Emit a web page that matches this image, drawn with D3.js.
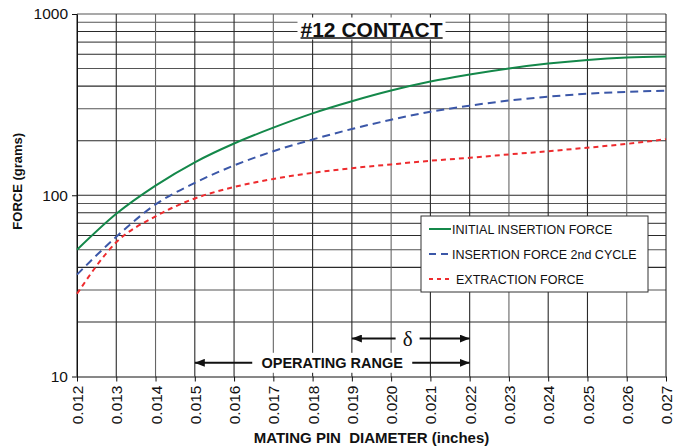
<!DOCTYPE html>
<html>
<head>
<meta charset="utf-8">
<script src="https://cdn.jsdelivr.net/npm/d3@7"></script>
<style>
  body { margin: 0; background: #fff; }
  #svg-container { width: 677px; height: 448px; }
  text { font-family: "Liberation Sans", Arial, sans-serif; fill: #111; }
</style>
</head>
<body>
<div id="svg-container"></div>
<script>
// data (grams at each pin diameter)
const diameters = [0.012, 0.013, 0.014, 0.015, 0.016, 0.017, 0.018, 0.019, 0.02, 0.021, 0.022, 0.023, 0.024, 0.025, 0.026, 0.027];
const initialInsertion = [50, 79, 113, 152, 193, 236, 283, 330, 378, 424, 464, 501, 533, 558, 575, 583];
const insertion2nd = [36.5, 59, 89, 117, 146, 175, 203, 232, 261, 289, 312, 333, 350, 363, 372, 377];
const extraction = [28.6, 55, 76.5, 96, 111, 123, 133, 141, 148, 155, 161, 168, 175, 183, 192, 204];
const xTicks = d3.range(0.012, 0.02701, 0.001);
const yTicks = [10, 100, 1000];
const seriesNames = ["INITIAL INSERTION FORCE", "INSERTION FORCE 2nd CYCLE", "EXTRACTION FORCE"];
const operatingRange = [0.015, 0.022];
const deltaRange = [0.019, 0.022];

const width = 677;
const height = 448;
const margin = { top: 14, right: 11, bottom: 71.5, left: 77 };

const svg = d3.select("#svg-container").append("svg")
  .attr("width", width).attr("height", height);

// scales
const xScale = d3.scaleLinear().domain([0.012, 0.027]).range([margin.left, width - margin.right]);
const yScale = d3.scaleLog().domain([10, 1000]).range([height - margin.bottom, margin.top]);

// grid
const minorY = [];
[10, 100].forEach((dec) => { for (let k = 2; k <= 9; k++) minorY.push(dec * k); });
svg.append("g").selectAll("line").data(minorY.concat([100, 1000])).join("line")
  .attr("x1", margin.left).attr("x2", width - margin.right)
  .attr("y1", (d) => yScale(d)).attr("y2", (d) => yScale(d))
  .attr("stroke", (d, i) => (i % 2 ? "#555" : "#2a2a2a")).attr("stroke-width", 1.1);

svg.append("g").selectAll("line").data(xTicks).join("line")
  .attr("x1", (d) => xScale(d)).attr("x2", (d) => xScale(d))
  .attr("y1", margin.top).attr("y2", height - margin.bottom)
  .attr("stroke", (d, i) => (i % 3 == 2 ? "#666" : "#2a2a2a")).attr("stroke-width", 1.1);

// axes
const xAxis = d3.axisBottom(xScale).tickValues(xTicks).tickFormat(d3.format(".3f")).tickSize(5).tickSizeOuter(0);
const yAxis = d3.axisLeft(yScale).tickValues(yTicks).tickFormat(d3.format("d")).tickSize(5).tickSizeOuter(0);

const gx = svg.append("g").attr("class", "x-axis")
  .attr("transform", `translate(0, ${height - margin.bottom})`).call(xAxis);
gx.select(".domain").attr("stroke", "#111");
gx.selectAll(".tick line").attr("stroke", "#111");
gx.selectAll("text")
  .attr("transform", "rotate(-90)")
  .attr("x", -9).attr("y", 0).attr("dy", "0.36em")
  .style("text-anchor", "end")
  .style("font-size", "15.5px")
  .style("font-family", "Liberation Sans, Arial, sans-serif")
  .attr("fill", "#111");

const gy = svg.append("g").attr("class", "y-axis")
  .attr("transform", `translate(${margin.left},0)`).call(yAxis);
gy.select(".domain").attr("stroke", "#111");
gy.selectAll(".tick line").attr("stroke", "#111");
gy.selectAll("text")
  .attr("x", -9)
  .style("font-size", "15.5px")
  .style("font-family", "Liberation Sans, Arial, sans-serif")
  .attr("fill", "#111");

// lines
const styles = [
  { values: initialInsertion, color: "#14884a", dash: null },
  { values: insertion2nd, color: "#3b57a8", dash: "8,5" },
  { values: extraction, color: "#ee2b2e", dash: "5,4" }
];

const line = d3.line()
  .x((d) => xScale(d[0]))
  .y((d) => yScale(d[1]))
  .curve(d3.curveMonotoneX);

styles.forEach((s) => {
  svg.append("path")
    .datum(diameters.map((d, i) => [d, s.values[i]]))
    .attr("d", line)
    .attr("fill", "none")
    .attr("stroke", s.color)
    .attr("stroke-width", 2)
    .attr("stroke-dasharray", s.dash);
});

// title
const titleX = xScale(0.0195);
const titleY = 36.5;
svg.append("rect")
  .attr("x", titleX - 74).attr("y", titleY - 19).attr("width", 148).attr("height", 22)
  .attr("fill", "#fff");
const title = svg.append("text")
  .attr("x", titleX).attr("y", titleY)
  .attr("text-anchor", "middle")
  .style("font-size", "21px").style("font-weight", "bold")
  .text("#12 CONTACT");
const tb = title.node().getBBox();
svg.append("line")
  .attr("x1", tb.x).attr("x2", tb.x + tb.width)
  .attr("y1", titleY + 1.5).attr("y2", titleY + 1.5)
  .attr("stroke", "#111").attr("stroke-width", 1.5);

// legend
const legend = svg.append("g").attr("transform", "translate(421,216)");
legend.append("rect")
  .attr("width", 227).attr("height", 76)
  .attr("fill", "#fff").attr("stroke", "#333").attr("stroke-width", 1);
styles.forEach((s, i) => {
  const y = 13 + i * 25;
  legend.append("line")
    .attr("x1", 8).attr("x2", 30).attr("y1", y).attr("y2", y)
    .attr("stroke", s.color).attr("stroke-width", 2)
    .attr("stroke-dasharray", i == 1 ? "7,5" : i == 2 ? "4,4" : null);
  legend.append("text")
    .attr("x", i == 2 ? 35 : 31).attr("y", y).attr("dy", "0.36em")
    .style("font-size", "12.5px")
    .text(seriesNames[i]);
});

// arrows
const defs = svg.append("defs");
defs.append("marker")
  .attr("id", "arrow")
  .attr("viewBox", "0 0 10 8")
  .attr("refX", 10).attr("refY", 4)
  .attr("markerWidth", 10).attr("markerHeight", 8)
  .attr("markerUnits", "userSpaceOnUse")
  .attr("orient", "auto")
  .append("path").attr("d", "M0,0L10,4L0,8Z").attr("fill", "#111");

function rangeArrow(range, val, label, textX, gapL, gapR, font, size, weight) {
  const y = yScale(val);
  const tx = xScale(textX);
  svg.append("rect")
    .attr("x", tx - gapL).attr("y", y - 10).attr("width", gapL + gapR).attr("height", 20)
    .attr("fill", "#fff");
  svg.append("text")
    .attr("x", tx).attr("y", y).attr("dy", "0.36em")
    .attr("text-anchor", "middle")
    .style("font-family", font).style("font-size", size).style("font-weight", weight)
    .text(label);
  svg.append("line")
    .attr("x1", tx - gapL + 2).attr("x2", xScale(range[0]))
    .attr("y1", y).attr("y2", y)
    .attr("stroke", "#111").attr("stroke-width", 2)
    .attr("marker-end", "url(#arrow)");
  svg.append("line")
    .attr("x1", tx + gapR - 2).attr("x2", xScale(range[1]))
    .attr("y1", y).attr("y2", y)
    .attr("stroke", "#111").attr("stroke-width", 2)
    .attr("marker-end", "url(#arrow)");
}
rangeArrow(operatingRange, 11.9, "OPERATING RANGE", 0.0185, 82, 82, "Liberation Sans, Arial, sans-serif", "14.5px", "bold");
rangeArrow(deltaRange, 16.2, "δ", 0.02042, 14, 14, "Liberation Serif, Times New Roman, serif", "21px", "normal");

// axis titles
svg.append("text")
  .attr("transform", `translate(22, ${yScale(100) - 14}) rotate(-90)`)
  .attr("text-anchor", "middle")
  .style("font-size", "13px").style("font-weight", "bold")
  .text("FORCE (grams)");

svg.append("text")
  .attr("x", (margin.left + width - margin.right) / 2).attr("y", 443)
  .attr("text-anchor", "middle")
  .attr("xml:space", "preserve")
  .style("white-space", "pre")
  .style("font-size", "15px").style("font-weight", "bold")
  .text("MATING PIN  DIAMETER (inches)");
</script>
</body>
</html>
